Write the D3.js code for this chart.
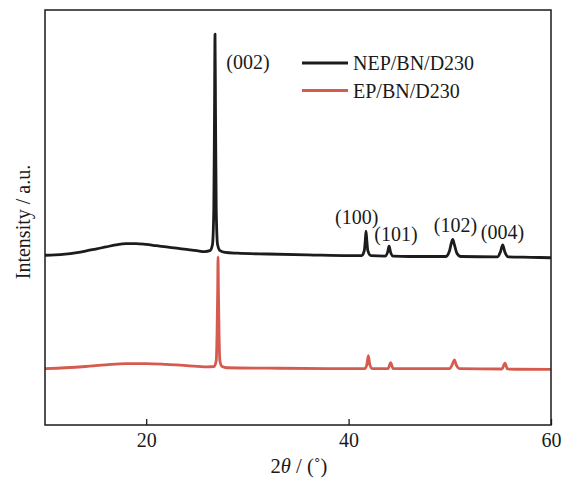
<!DOCTYPE html>
<html>
<head>
<meta charset="utf-8">
<script src="https://cdn.jsdelivr.net/npm/d3@7/dist/d3.min.js"></script>
<style>
  html, body { margin: 0; padding: 0; background: #fff; }
  svg { display: block; }
  text { font-family: "Liberation Serif", "Times New Roman", "DejaVu Serif", serif; fill: #1a1a1a; }
</style>
</head>
<body>
<svg id="chart" width="568" height="479"></svg>
<script>
// XRD patterns, 2θ in degrees and intensity in arbitrary stacked units
const nepAngles = [10, 11, 12, 13, 14, 15, 16, 17, 18, 19, 20, 21, 22, 23, 24, 25, 25.8,
  26.3, 26.55, 26.68, 26.75, 26.8, 26.85, 26.92, 27.05, 27.3, 27.8, 29, 32, 36, 40,
  41.3, 41.55, 41.65, 41.72, 41.8, 41.9, 42.2, 43.6, 43.85, 44.0, 44.15, 44.4, 46,
  49.6, 49.95, 50.15, 50.29, 50.45, 50.7, 51.1, 54.7, 55.0, 55.23, 55.45, 55.8, 58, 60];
const nepIntensity = [40.9, 41.0, 41.2, 41.5, 41.9, 42.4, 42.9, 43.4, 43.7, 43.7, 43.5, 43.2, 42.9, 42.6, 42.3, 42.0, 41.8,
  42.0, 43.5, 52, 75, 94.2, 75, 52, 43.5, 42.0, 41.6, 41.4, 41.2, 41.0, 40.8,
  40.8, 42.0, 44.5, 46.7, 44.5, 42.0, 40.8, 40.7, 41.6, 43.1, 41.6, 40.7, 40.6,
  40.6, 41.8, 43.8, 44.7, 43.5, 41.4, 40.6, 40.5, 41.7, 43.4, 41.6, 40.5, 40.4, 40.3];

const epAngles = [10, 12, 14, 16, 18, 20, 22, 24, 26, 26.7, 26.92, 27.0, 27.06, 27.1, 27.14,
  27.2, 27.28, 27.5, 28, 32, 38, 41.6, 41.8, 41.95, 42.1, 42.35, 43.9, 44.16, 44.4,
  50.0, 50.25, 50.45, 50.65, 50.95, 55.15, 55.45, 55.7, 60];
const epIntensity = [13.6, 13.8, 14.1, 14.5, 14.8, 14.8, 14.6, 14.3, 14.0, 14.1, 15.5, 22, 32, 40.5, 32,
  22, 15.5, 14.1, 13.8, 13.7, 13.6, 13.6, 14.5, 16.7, 14.5, 13.6, 13.6, 15.0, 13.6,
  13.6, 14.6, 15.7, 14.4, 13.6, 13.5, 14.9, 13.5, 13.4];

const seriesNames = ["NEP/BN/D230", "EP/BN/D230"];
const seriesColors = ["#1c1c1c", "#d65b4f"];

// Miller-index annotations, anchored in data space
const peakLabels = ["(002)", "(100)", "(101)", "(102)", "(004)"];
const peakLabelAngles = [30.06, 40.8, 44.68, 50.56, 55.2];
const peakLabelIntensity = [85.8, 48.4, 44.3, 46.5, 44.7];

const xTicks = [20, 40, 60];

const svg = d3.select("#chart");
const margin = { left: 45, right: 17, top: 10, bottom: 54 };
const W = 568, H = 479;
const x = d3.scaleLinear().domain([10, 60]).range([margin.left, W - margin.right]);
const y = d3.scaleLinear().domain([0, 100]).range([H - margin.bottom, margin.top]);

const line = d3.line()
  .x(d => x(d[0]))
  .y(d => y(d[1]))
  .curve(d3.curveMonotoneX);

const series = [
  d3.zip(nepAngles, nepIntensity),
  d3.zip(epAngles, epIntensity)
];

// draw EP first so NEP sits on top
[1, 0].forEach(i => {
  svg.append("path")
    .datum(series[i])
    .attr("fill", "none")
    .attr("stroke", seriesColors[i])
    .attr("stroke-width", 2.8)
    .attr("stroke-linejoin", "round")
    .attr("d", line);
});

// frame
svg.append("rect")
  .attr("x", x(10)).attr("y", y(100))
  .attr("width", x(60) - x(10)).attr("height", y(0) - y(100))
  .attr("fill", "none").attr("stroke", "#1a1a1a").attr("stroke-width", 1.5);

// bottom axis
const xAxis = d3.axisBottom(x).tickValues(xTicks).tickSizeInner(-6).tickSizeOuter(0).tickPadding(8);
const gx = svg.append("g").attr("transform", `translate(0,${y(0)})`).call(xAxis);
gx.select(".domain").remove();
gx.selectAll(".tick line").attr("stroke", "#1a1a1a").attr("stroke-width", 1.3);
gx.selectAll(".tick text")
  .style("font-family", '"Liberation Serif", "Times New Roman", serif')
  .style("font-size", "20px").attr("fill", "#1a1a1a");

// axis titles
const xt = svg.append("text")
  .attr("x", 299).attr("y", 473)
  .attr("text-anchor", "middle")
  .style("font-size", "20.5px");
xt.append("tspan").text("2");
xt.append("tspan").style("font-style", "italic").text("θ");
xt.append("tspan").text(" / (˚)");

svg.append("text")
  .attr("transform", "translate(30,222) rotate(-90)")
  .attr("text-anchor", "middle")
  .style("font-size", "20px")
  .text("Intensity / a.u.");

// peak labels
svg.selectAll("text.peak")
  .data(peakLabels)
  .join("text")
  .attr("class", "peak")
  .attr("x", (d, i) => x(peakLabelAngles[i]))
  .attr("y", (d, i) => y(peakLabelIntensity[i]))
  .attr("text-anchor", "middle")
  .style("font-size", "20px")
  .text(d => d);

// legend
const legend = svg.append("g").attr("transform", "translate(302,63)");
seriesNames.forEach((name, i) => {
  const g = legend.append("g").attr("transform", `translate(0,${i * 27.5})`);
  g.append("line")
    .attr("x1", 0).attr("x2", 46).attr("y1", 0).attr("y2", 0)
    .attr("stroke", seriesColors[i]).attr("stroke-width", 3);
  g.append("text")
    .attr("x", 51).attr("y", 7)
    .style("font-size", "20px")
    .text(name);
});
</script>
</body>
</html>
